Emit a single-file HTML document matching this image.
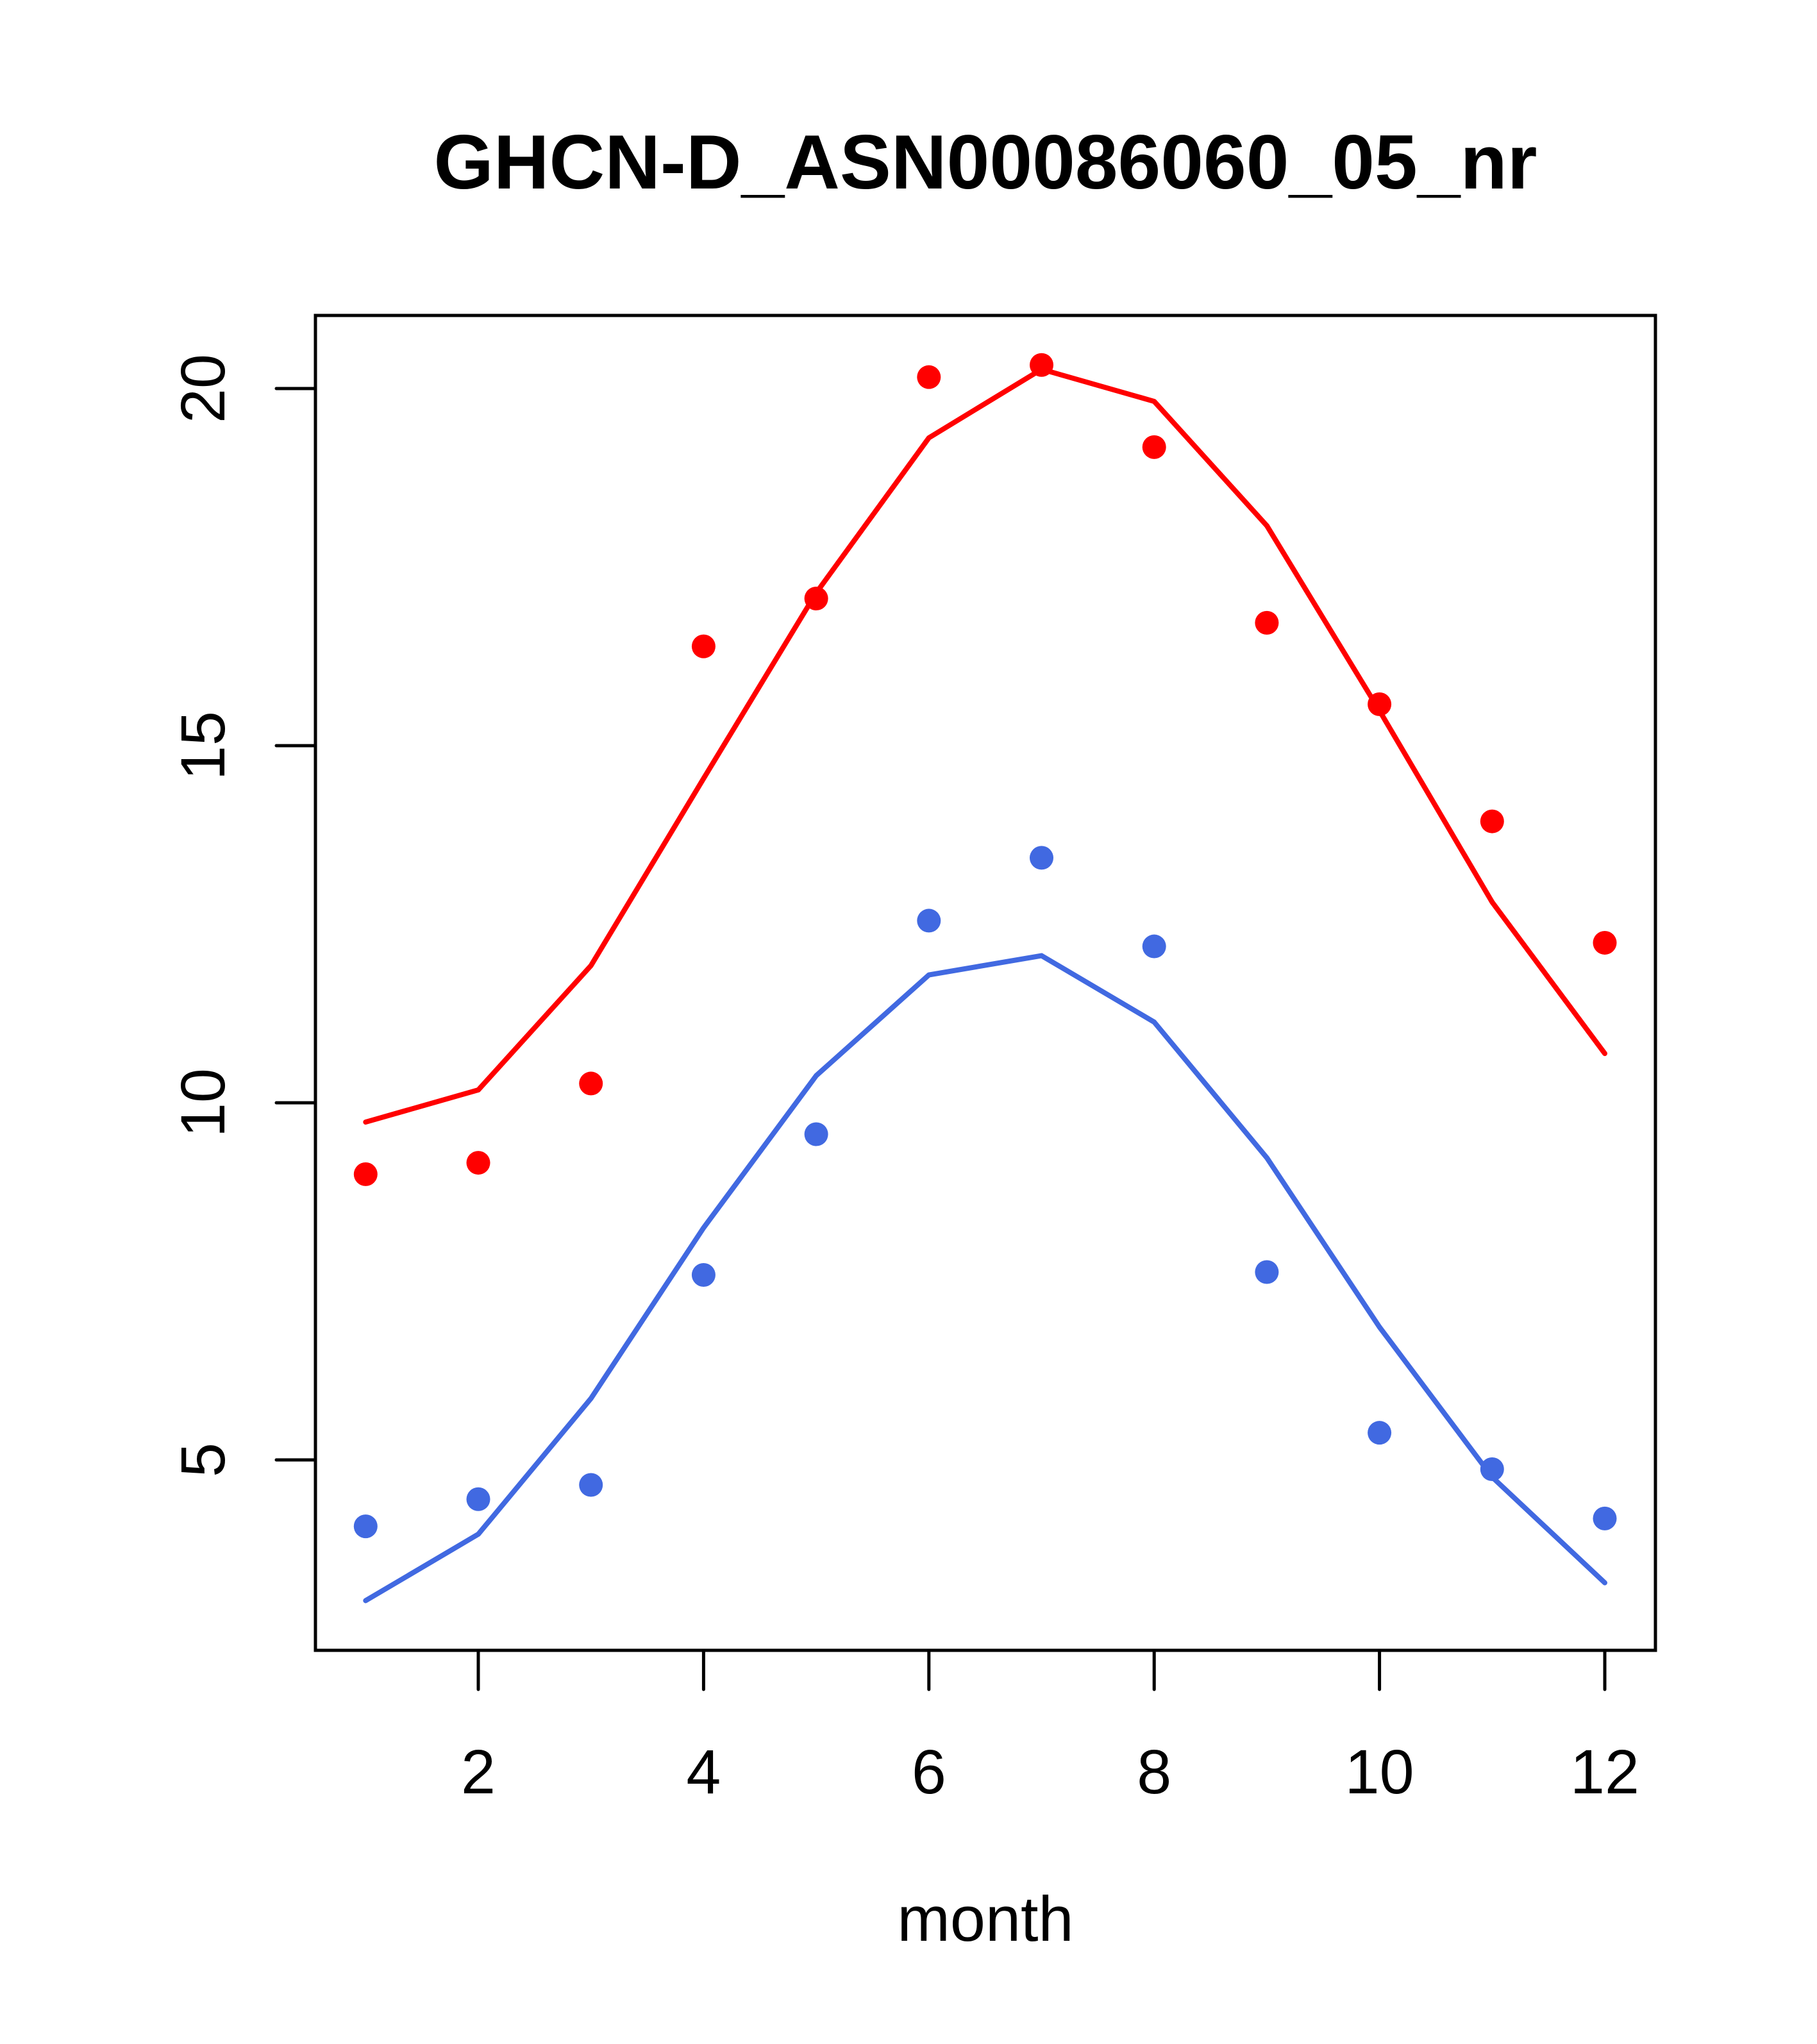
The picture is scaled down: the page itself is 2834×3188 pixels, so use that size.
<!DOCTYPE html>
<html><head><meta charset="utf-8"><style>html,body{margin:0;padding:0;background:#fff}svg{display:block}</style></head>
<body>
<svg id="chart" width="2834" height="3188" viewBox="0 0 2834 3188" xmlns="http://www.w3.org/2000/svg" font-family="Liberation Sans, Arial, sans-serif">
<rect width="2834" height="3188" fill="#fff"/>
<text x="1537" y="294" text-anchor="middle" font-size="120" font-weight="bold">GHCN-D_ASN00086060_05_nr</text>
<rect x="492" y="492" width="2090" height="2082" fill="none" stroke="#000" stroke-width="5"/>
<g id="xaxis"></g>
<g id="yaxis"></g>
<g id="series"></g>
<text x="1537" y="3027" text-anchor="middle" font-size="99">month</text>
</svg>
<script>
const months = [1,2,3,4,5,6,7,8,9,10,11,12];
const redPoints = [9.0,9.16,10.27,16.39,17.06,20.16,20.33,19.18,16.72,15.58,13.94,12.24];
const redLine = [9.73,10.18,11.92,14.54,17.14,19.31,20.27,19.82,18.08,15.49,12.81,10.69];
const bluePoints = [4.07,4.45,4.65,7.59,9.56,12.55,13.43,12.19,7.63,5.38,4.87,4.18];
const blueLine = [3.03,3.96,5.86,8.25,10.38,11.79,12.06,11.13,9.23,6.86,4.76,3.28];
const xTicks = [2,4,6,8,10,12];
const yTicks = [5,10,15,20];

const NS='http://www.w3.org/2000/svg';
function X(m){return 746+(m-2)*175.7;}
function Y(v){return 606+(20-v)*111.4;}
function mk(tag,attrs,parent){const e=document.createElementNS(NS,tag);for(const k in attrs)e.setAttribute(k,attrs[k]);parent.appendChild(e);return e;}
const xa=document.getElementById('xaxis'), ya=document.getElementById('yaxis'), sg=document.getElementById('series');
xTicks.forEach(t=>{
  const l=mk('line',{x1:X(t),x2:X(t),y1:2574,y2:2635,stroke:'#000','stroke-width':5,'stroke-linecap':'round'},xa);
  
  
  const tx=mk('text',{x:X(t),y:2797,'text-anchor':'middle','font-size':97},xa);
  tx.textContent=t;
  
  
});
yTicks.forEach(t=>{
  const l=mk('line',{x1:431,x2:492,y1:Y(t),y2:Y(t),stroke:'#000','stroke-width':5,'stroke-linecap':'round'},ya);
  
  
  const tx=mk('text',{x:0,y:0,'text-anchor':'middle','font-size':97,transform:'translate(350,'+Y(t)+') rotate(-90)'},ya);
  tx.textContent=t;
  
  
});
function drawLine(vals,color,name){
  const p=mk('polyline',{points:months.map((m,i)=>X(m)+','+Y(vals[i])).join(' '),fill:'none',stroke:color,'stroke-width':8,'stroke-linecap':'round','stroke-linejoin':'round'},sg);
  
  
}
function drawPts(vals,color,name){
  months.forEach((m,i)=>{
    const c=mk('circle',{cx:X(m),cy:Y(vals[i]),r:18.5,fill:color},sg);
    
    
  });
}
drawLine(redLine,'#ff0000','red-line');
drawLine(blueLine,'#4169e1','blue-line');
drawPts(redPoints,'#ff0000','red-point');
drawPts(bluePoints,'#4169e1','blue-point');
</script>
</body></html>
